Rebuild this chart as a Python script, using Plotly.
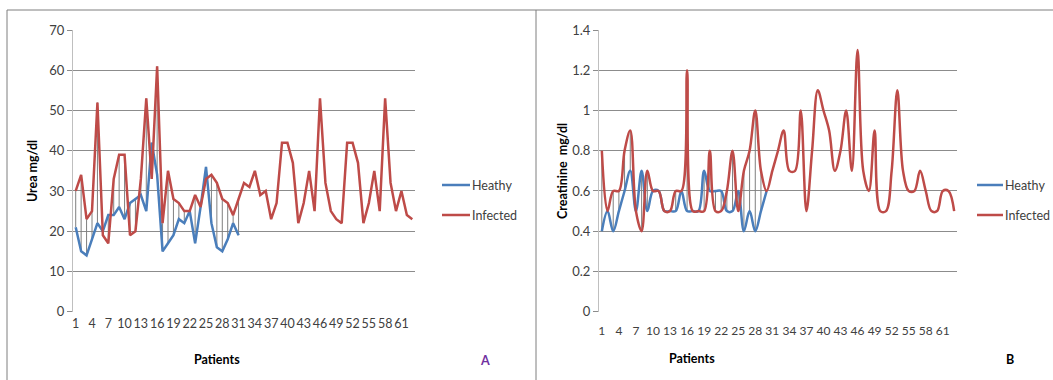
import plotly.graph_objects as go

# ---------------- data ----------------
patients = list(range(1, 64))
tick_labels = [str(v) for v in range(1, 62, 3)]
series_names = ["Heathy", "Infected"]

urea_healthy = [21, 15, 14, 18, 22, 20, 24, 24, 26, 23, 27, 28, 29, 25, 42, 34,
                15, 17, 19, 23, 22, 25, 17, 26, 36, 22, 16, 15, 18, 22, 19]
urea_infected = [30, 34, 23, 25, 52, 19, 17, 33, 39, 39, 19, 20, 33, 53, 33, 61,
                 22, 35, 28, 27, 25, 25, 29, 26, 33, 34, 32, 28, 27, 24, 28, 32,
                 31, 35, 29, 30, 23, 27, 42, 42, 37, 22, 27, 35, 25, 53, 32, 25,
                 23, 22, 42, 42, 37, 22, 27, 35, 25, 53, 32, 25, 30, 24, 23]

creat_healthy = [0.4, 0.5, 0.4, 0.5, 0.6, 0.7, 0.5, 0.7, 0.5, 0.6, 0.6, 0.5, 0.5,
                 0.5, 0.6, 0.5, 0.5, 0.5, 0.7, 0.6, 0.6, 0.6, 0.5, 0.5, 0.6, 0.4,
                 0.5, 0.4, 0.5, 0.6]
creat_infected = [0.8, 0.5, 0.6, 0.6, 0.8, 0.9, 0.5, 0.4, 0.7, 0.6, 0.6, 0.5, 0.5,
                  0.6, 0.6, 1.2, 0.5, 0.5, 0.5, 0.8, 0.5, 0.5, 0.6, 0.8, 0.5, 0.7,
                  0.8, 1.0, 0.7, 0.6, 0.7, 0.8, 0.9, 0.7, 0.7, 1.0, 0.5, 0.8, 1.1,
                  1.0, 0.9, 0.7, 0.8, 1.0, 0.7, 1.3, 0.7, 0.6, 0.9, 0.5, 0.5, 0.7,
                  1.1, 0.7, 0.6, 0.6, 0.7, 0.6, 0.5, 0.5, 0.6, 0.6, 0.5]

BLUE = "#4A7EBB"
RED = "#BE4B48"
GRID = "#8C8C8C"
FONT = "Lato"
W, H = 1053, 380


def px_x(p):
    return p / W


def px_y(p):
    return 1 - p / H


def hilo(h, inf):
    xs, ys = [], []
    for i, (a, b) in enumerate(zip(h, inf)):
        xs += [patients[i], patients[i], None]
        ys += [min(a, b), max(a, b), None]
    return xs, ys


fig = go.Figure()

# ---- Panel A ----
hx, hy = hilo(urea_healthy, urea_infected)
fig.add_trace(go.Scatter(x=hx, y=hy, mode="lines", line=dict(color="#7F7F7F", width=1),
                         hoverinfo="skip", xaxis="x", yaxis="y"))
fig.add_trace(go.Scatter(x=patients[:len(urea_healthy)], y=urea_healthy, mode="lines",
                         name=series_names[0], line=dict(color=BLUE, width=2.5),
                         xaxis="x", yaxis="y"))
fig.add_trace(go.Scatter(x=patients[:len(urea_infected)], y=urea_infected, mode="lines",
                         name=series_names[1], line=dict(color=RED, width=2.5),
                         xaxis="x", yaxis="y"))

# ---- Panel B ----
hx, hy = hilo(creat_healthy, creat_infected)
fig.add_trace(go.Scatter(x=hx, y=hy, mode="lines", line=dict(color="#7F7F7F", width=1),
                         hoverinfo="skip", xaxis="x2", yaxis="y2"))
fig.add_trace(go.Scatter(x=patients[:len(creat_healthy)], y=creat_healthy, mode="lines",
                         name=series_names[0],
                         line=dict(color=BLUE, width=2.5, shape="spline", smoothing=1),
                         xaxis="x2", yaxis="y2"))
fig.add_trace(go.Scatter(x=patients[:len(creat_infected)], y=creat_infected, mode="lines",
                         name=series_names[1],
                         line=dict(color=RED, width=2.5, shape="spline", smoothing=1),
                         xaxis="x2", yaxis="y2"))

tick_vals = [int(t) for t in tick_labels]

xcommon = dict(range=[0.5, 63.5], tickmode="array", tickvals=tick_vals, ticktext=tick_labels,
               showgrid=False, zeroline=False, showline=False, ticks="", tickangle=0,
               fixedrange=True, automargin=False)
ycommon = dict(showgrid=True, gridcolor=GRID, gridwidth=1, zeroline=False, showline=True,
               linecolor="#BFBFBF", linewidth=1, ticks="outside", ticklen=5, tickcolor=GRID,
               tickfont=dict(family=FONT, size=13, color="#404040"), fixedrange=True,
               automargin=False)

ybot, ytop = px_y(311.7), px_y(30)

fig.update_layout(
    width=W, height=H, margin=dict(l=0, r=0, t=0, b=0, autoexpand=False),
    paper_bgcolor="white", plot_bgcolor="white", showlegend=False,
    xaxis=dict(domain=[px_x(73), px_x(415)], anchor="y", ticklabelstandoff=3,
               tickfont=dict(family=FONT, size=12.5, color="#404040"), **xcommon),
    yaxis=dict(domain=[ybot, ytop], anchor="x", range=[0, 70], dtick=10, **ycommon),
    xaxis2=dict(domain=[px_x(599), px_x(957)], anchor="y2", ticklabelstandoff=10,
                tickfont=dict(family=FONT, size=12, color="#404040"), **xcommon),
    yaxis2=dict(domain=[ybot, ytop], anchor="x2", range=[0, 1.4], dtick=0.2,
                tickformat="~g", **ycommon),
)

annots = [
    dict(text="<b>Urea mg/dl</b>", x=px_x(33), y=px_y(171), textangle=-90),
    dict(text="<b>Creatinine  mg/dl</b>", x=px_x(563), y=px_y(171), textangle=-90),
    dict(text="<b>Patients</b>", x=px_x(217), y=px_y(359)),
    dict(text="<b>Patients</b>", x=px_x(692), y=px_y(358)),
    dict(text="<b>A</b>", x=px_x(485), y=px_y(360), color="#7030A0"),
    dict(text="<b>B</b>", x=px_x(1010), y=px_y(359), color="#000000"),
]
for a in annots:
    fig.add_annotation(text=a["text"], x=a["x"], y=a["y"], xref="paper", yref="paper",
                       showarrow=False, textangle=a.get("textangle", 0),
                       font=dict(family=FONT, size=12.5, color=a.get("color", "#000000")),
                       xanchor="center", yanchor="middle")

# manual legends
for lx0, lx1 in [(442, 470), (977, 1003)]:
    for name, color, ly in [(series_names[0], BLUE, 185), (series_names[1], RED, 215)]:
        fig.add_shape(type="line", xref="paper", yref="paper",
                      x0=px_x(lx0), x1=px_x(lx1), y0=px_y(ly), y1=px_y(ly),
                      line=dict(color=color, width=2.5))
        fig.add_annotation(text=name, x=px_x(lx1), y=px_y(ly), xref="paper", yref="paper",
                           showarrow=False, xanchor="left", yanchor="middle",
                           font=dict(family=FONT, size=12.5, color="#404040"))

# frame lines
for x0, y0, x1, y1 in [(7, 10, 1053, 10), (7, 10, 7, 380), (536, 10, 536, 380)]:
    fig.add_shape(type="line", xref="paper", yref="paper",
                  x0=px_x(x0), y0=px_y(y0), x1=px_x(x1), y1=px_y(y1),
                  line=dict(color="#7F7F7F", width=1))

fig.write_html("out.html", config={"displayModeBar": False},
               post_script="document.body.style.margin='0';document.body.style.overflow='hidden';")
